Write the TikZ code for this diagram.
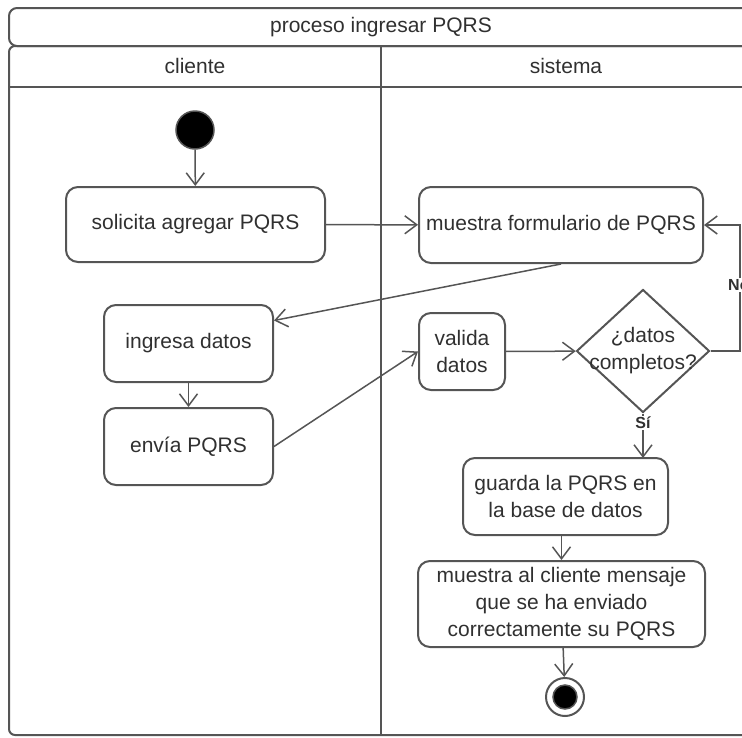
\documentclass[tikz,border=0pt]{standalone}
\usepackage{fontspec}
\setmainfont{Liberation Sans}
\usetikzlibrary{arrows.meta,shapes.geometric,calc}
\definecolor{edge}{HTML}{555555}
\definecolor{ink}{HTML}{303030}
\tikzset{
  lane/.style={draw=edge, line width=2pt},
  lanetext/.style={text=ink, font=\fontsize{21}{24}\selectfont},
  act/.style={draw=edge, line width=2pt, rounded corners=12pt, align=center,
    text=ink, font=\fontsize{21}{27}\selectfont, inner sep=0pt},
  flow/.style={draw=edge, line width=1.5pt, -{Straight Barb[length=12pt,width=18pt,line width=1.5pt]}},
  guard/.style={font=\fontsize{16}{18}\selectfont\bfseries, text=ink, fill=white, inner sep=1pt},
}
\begin{document}
\begin{tikzpicture}[x=1pt,y=-1pt]
\useasboundingbox (0,0) rectangle (742,737);
\clip (0,0) rectangle (742,737);
% pool title and swimlanes
\draw[lane, rounded corners=8pt] (9,8) rectangle (780,46);
\node[lanetext] (title) at (381,27) {proceso ingresar PQRS};
\draw[lane, rounded corners=6pt] (9,46) rectangle (780,735);
\draw[lane] (9,87) -- (780,87);
\draw[lane] (381,46) -- (381,735);
\node[lanetext] (lcli) at (195,66) {cliente};
\node[lanetext] (lsis) at (566,66) {sistema};
% activity nodes
\node[circle, fill=black, draw=edge, line width=1.5pt, minimum size=38pt, inner sep=0pt] (start) at (195,130) {};
\node[act, minimum width=259pt, minimum height=75pt] (sol) at (195.5,224.5) {solicita agregar PQRS};
\node[act, minimum width=284pt, minimum height=76pt] (mf) at (561,225) {muestra formulario de PQRS};
\node[act, minimum width=169pt, minimum height=77pt] (ing) at (188.5,343.5) {ingresa datos};
\node[act, minimum width=169pt, minimum height=77pt] (env) at (188.5,446.5) {envía PQRS};
\node[act, minimum width=86pt, minimum height=77pt] (val) at (462,351.5) {valida\\datos};
\node[diamond, draw=edge, line width=2pt, minimum width=133pt, minimum height=123pt, inner sep=0pt] (dec) at (643,351) {};
\node[align=center, text=ink, font=\fontsize{21}{27}\selectfont, inner sep=0pt] (dectext) at (dec.center) {¿datos\\completos?};
\node[act, minimum width=205pt, minimum height=77pt] (gua) at (565.5,496.5) {guarda la PQRS en\\la base de datos};
\node[act, minimum width=287pt, minimum height=86pt] (msg) at (561.5,604) {muestra al cliente mensaje\\que se ha enviado\\correctamente su PQRS};
\node[circle, draw=edge, line width=2pt, fill=white, minimum size=38pt, inner sep=0pt] (end) at (565,697) {};
\node[circle, fill=black, draw=edge, line width=1.5pt, minimum size=24pt, inner sep=0pt] (endin) at (565,697) {};
% control flow
\draw[flow] (start) -- (sol);
\draw[flow] (sol) -- (mf);
\draw[flow] (mf.south) -- ($(ing.east)+(0,-23)$);
\draw[flow] (ing) -- (env);
\draw[flow] (env.east) -- (val.west);
\draw[flow] (val) -- (dec);
\coordinate (nb) at (740,351);
\coordinate (nt) at (740,225);
\draw[flow] (dec.east) -- (nb) -- (nt) -- (mf.east);
\node[guard, anchor=west] (no) at (727,285) {No};
\coordinate (sb) at (643,458);
\draw[flow] (dec.south) -- (sb);
\node[guard] (si) at (643,423) {Sí};
\draw[flow] (gua.south -| msg.north) -- (msg.north);
\draw[flow] (msg) -- (end);
\end{tikzpicture}
\end{document}
